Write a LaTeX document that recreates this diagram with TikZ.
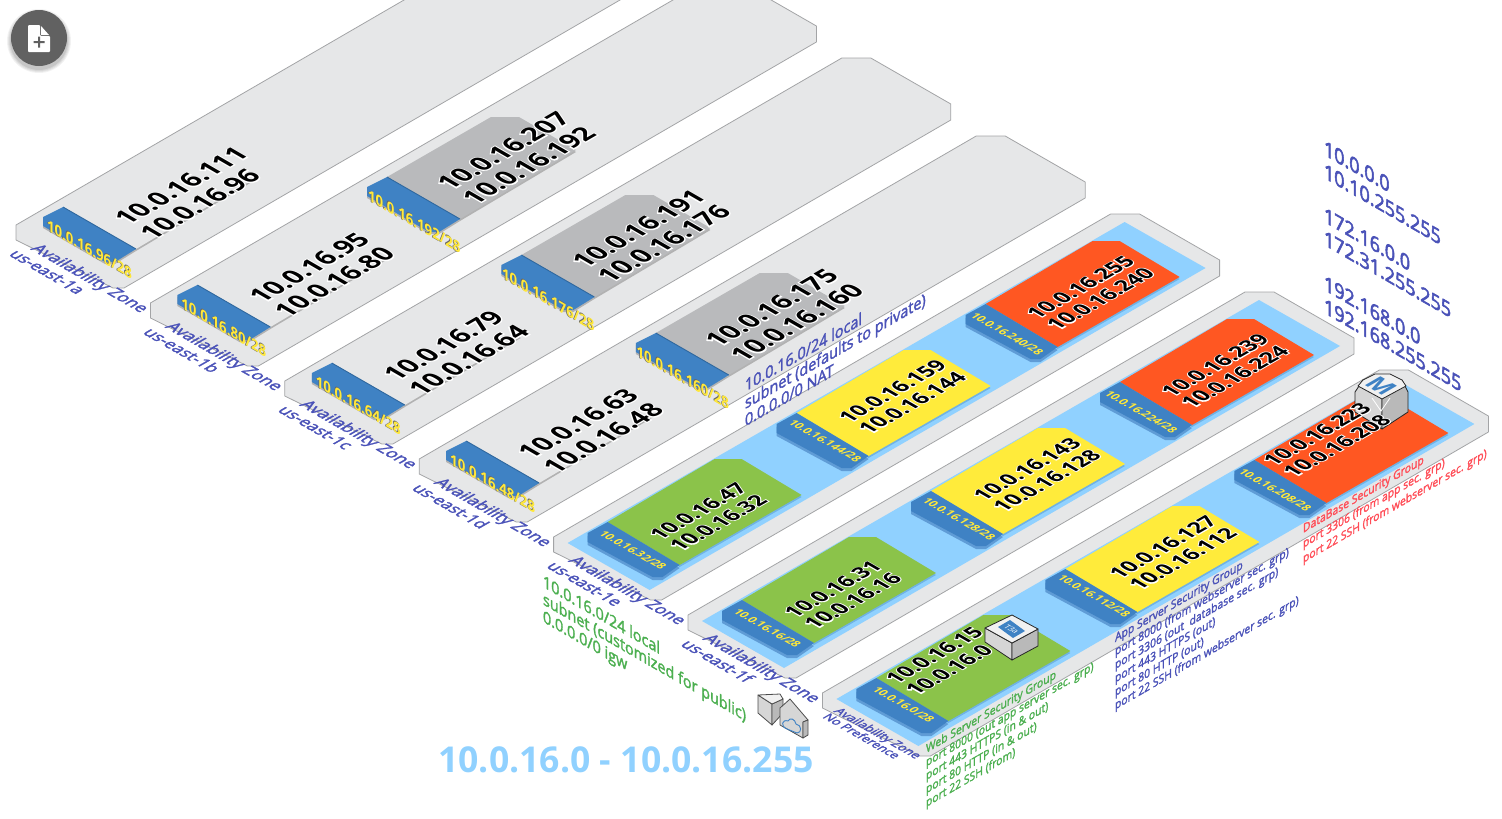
\documentclass[tikz,border=0pt]{standalone}
\usepackage{fontspec}
\setmainfont{Open Sans}
\newfontfamily\semifont[FakeBold=2]{Open Sans}
\newfontfamily\rangefont[FakeBold=3]{Open Sans}
\newfontfamily\halofont[FakeBold=9]{Open Sans}
\definecolor{bandgrey}{HTML}{E6E7E8}
\definecolor{bandline}{HTML}{A3A4A6}
\definecolor{sky}{HTML}{90D1FF}
\definecolor{hdrblue}{HTML}{3F82C4}
\definecolor{hdrdark}{HTML}{2F689F}
\definecolor{hdrshade}{HTML}{5F9CD6}
\definecolor{bodyshade}{HTML}{6FB2E4}
\definecolor{tgreen}{HTML}{8BC34A}
\definecolor{tyellow}{HTML}{FFEB3B}
\definecolor{torange}{HTML}{FF5722}
\definecolor{tgrey}{HTML}{B9BABC}
\definecolor{lblyellow}{HTML}{FFE83A}
\definecolor{indigoish}{HTML}{4A52B8}
\definecolor{greenish}{HTML}{4CAF50}
\definecolor{redish}{HTML}{FF4D57}
\definecolor{btn}{HTML}{616161}
\definecolor{cubeT}{HTML}{F1F1F1}
\definecolor{cubeL}{HTML}{D6D6D6}
\definecolor{cubeR}{HTML}{B9B9B9}
\tikzset{
  isoup/.style={inner sep=0pt,outer sep=0pt,anchor=west,align=left,cm={.866,.5,-.866,.5,(0,0)}},
  floordown/.style={inner sep=0pt,outer sep=0pt,anchor=west,align=left,cm={.866,-.5,.866,.5,(0,0)}},
  walldown/.style={inner sep=0pt,outer sep=0pt,anchor=west,align=left,cm={.866,-.5,0,1,(0,0)}},
  wallup/.style={inner sep=0pt,outer sep=0pt,anchor=west,align=left,cm={.866,.5,0,1,(0,0)}},
  ipbig/.style={isoup,font=\bfseries\fontsize{26}{29}\selectfont},
  ipsmall/.style={isoup,font=\bfseries\fontsize{21}{23}\selectfont},
  azlabel/.style={floordown,text=indigoish,font=\semifont\fontsize{16.8}{17}\selectfont},
  uslabel/.style={floordown,text=indigoish,font=\semifont\fontsize{16.5}{17}\selectfont},
  azsmall/.style={floordown,text=indigoish,font=\semifont\fontsize{12.5}{14}\selectfont},
  hdrwall/.style={walldown,text=lblyellow,font=\bfseries\fontsize{15.3}{17}\selectfont},
  hdrfloor/.style={floordown,text=lblyellow,font=\bfseries\fontsize{11.3}{14}\selectfont},
  sgtext/.style={wallup,font=\semifont\fontsize{12}{13.5}\selectfont},
  notetext/.style={font=\semifont\fontsize{16.6}{17.5}\selectfont},
  rangetext/.style={walldown,text=indigoish,font=\rangefont\fontsize{20.7}{23}\selectfont},
  cubeline/.style={draw=black!85,line width=.8pt,line join=round},
}
\newcommand{\haloline}[1]{\rlap{\halofont\color{white}#1}#1}
\newcommand{\shadeline}[1]{\rlap{\kern-.8pt\color{black!60}#1}#1}
\newcommand{\ipblock}[5]{\node[#1] (ip#4) at (#2,#3) {\haloline{10.0.16.#4}\\\haloline{10.0.16.#5}};}
\newcommand{\plaintile}[3]{%
  \begin{scope}[shift={(#1,#2)}]
    \fill[black!30,yshift=-2pt] (0,0)--(104,-60)--(132,-60)--(189,-27)--(73,42)--cycle;
    \fill[#3] (0,0)--(104,-60)--(132,-60)--(189,-27)--(73,42)--cycle;
    \fill[black!30,yshift=-2pt] (0,0)--(73,42)--(52,55)--(42,55)--(-20,19)--(-20,10)--cycle;
    \fill[hdrblue] (0,0)--(73,42)--(52,55)--(42,55)--(-20,19)--(-20,10)--cycle;
    \draw[hdrdark,line width=.9pt] (0,0)--(73,42);
  \end{scope}}
\newcommand{\colourtile}[3]{%
  \begin{scope}[shift={(#1,#2)}]
    \fill[bodyshade,yshift=-2pt] (0,0)--(107,-63)--(134,-63)--(194,-27)--(72,43)--cycle;
    \fill[#3] (0,0)--(107,-63)--(134,-63)--(194,-27)--(72,43)--cycle;
    \fill[hdrshade,yshift=-3pt] (0,0)--(72,43)--(55,55)--(45,55)--(-20,20)--(-20,11)--cycle;
    \fill[hdrblue] (0,0)--(72,43)--(55,55)--(45,55)--(-20,20)--(-20,11)--cycle;
  \end{scope}}
\begin{document}
\begin{tikzpicture}[x=1pt,y=-1pt]
\useasboundingbox (0,0) rectangle (1502,819);
\clip (0,0) rectangle (1502,819);
\foreach \k in {0,...,6}{
  \begin{scope}[shift={(16+134.4*\k,225+78*\k)}]
    \filldraw[fill=bandgrey,draw=bandline,line width=.8pt,line join=round]
      (0,0)--(557,-323)--(586,-323)--(666,-277)--(666,-261)--(108,63)--(97,63)--(0,15)--cycle;
  \end{scope}}
\foreach \k in {4,5,6}{
  \begin{scope}[shift={(16+134.4*\k,225+78*\k)}]
    \fill[sky] (14,6)--(571,-315)--(652,-269)--(96,53)--cycle;
  \end{scope}}
\plaintile{63}{207}{bandgrey}
\plaintile{197.4}{285}{bandgrey}
\plaintile{387}{177}{tgrey}
\plaintile{331.8}{363}{bandgrey}
\plaintile{521.4}{255}{tgrey}
\plaintile{466.2}{441}{bandgrey}
\plaintile{655.8}{333}{tgrey}
\colourtile{607.6}{522}{tgreen}
\colourtile{796.6}{413}{tyellow}
\colourtile{985.6}{304}{torange}
\colourtile{742}{600}{tgreen}
\colourtile{931}{491}{tyellow}
\colourtile{1120}{382}{torange}
\colourtile{876.4}{678}{tgreen}
\colourtile{1065.4}{569}{tyellow}
\colourtile{1254.4}{460}{torange}
% T3a cube
\filldraw[cubeline,fill=cubeL] (985,628)--(1012,643)--(1012,660)--(985,642)--cycle;
\filldraw[cubeline,fill=cubeR] (1012,643)--(1038,629)--(1038,646)--(1012,660)--cycle;
\filldraw[cubeline,fill=cubeT] (985,628)--(1012,615)--(1038,629)--(1012,643)--cycle;
\fill[hdrblue] (998,627)--(1010,620)--(1025,631)--(1013,638)--cycle;
\node[floordown,anchor=center,text=white,font=\fontsize{8}{9}\selectfont] (t3a) at (1011.5,629) {T3a};
% M cube
\filldraw[cubeline,fill=cubeL] (1355,392)--(1363,380)--(1382,395)--(1382,429)--(1355,412)--cycle;
\filldraw[cubeline,fill=cubeR] (1382,395)--(1402,380)--(1408,392)--(1408,412)--(1382,429)--cycle;
\filldraw[cubeline,fill=cubeT] (1358,386)--(1363,380)--(1375,374)--(1390,374)--(1402,380)--(1406,386)--(1382,399)--cycle;
\draw[white,line width=.8pt] (1372,398)--(1381,411)--(1390,398);
\node[floordown,anchor=center,text=hdrblue,font=\bfseries\fontsize{25}{26}\selectfont] (mcube) at (1381,386) {M};
% gateway icons
\filldraw[cubeline,fill=cubeL,draw=black!70] (758,695)--(772,704)--(772,725)--(758,713)--cycle;
\filldraw[cubeline,fill=cubeR,draw=black!70] (772,704)--(783,699)--(783,713)--(772,725)--cycle;
\filldraw[cubeline,fill=cubeT,draw=black!70] (758,695)--(780,694)--(783,699)--(772,704)--cycle;
\filldraw[cubeline,fill=cubeL,draw=black!70] (780,708)--(790,699)--(808,720)--(803,722)--(803,738)--(780,725)--cycle;
\filldraw[cubeline,fill=cubeR,draw=black!70] (803,722)--(808,720)--(808,735)--(803,738)--cycle;
\draw[hdrblue,line width=.9pt] (787,729) .. controls (780,726) and (782,719) .. (788,721) .. controls (790,717) and (795,719) .. (796,724) .. controls (802,725) and (802,733) .. (797,733) -- cycle;
% IP blocks
\ipblock{ipbig}{132.5}{228.5}{111}{96}
\ipblock{ipbig}{267}{306.5}{95}{80}
\ipblock{ipbig}{455}{193.5}{207}{192}
\ipblock{ipbig}{401.3}{384.5}{79}{64}
\ipblock{ipbig}{590}{271.5}{191}{176}
\ipblock{ipbig}{535.7}{462.5}{63}{48}
\ipblock{ipbig}{723}{350.5}{175}{160}
\ipblock{ipsmall}{664}{542.5}{47}{32}
\ipblock{ipsmall}{853}{425.5}{159}{144}
\ipblock{ipsmall}{1041}{321.5}{255}{240}
\ipblock{ipsmall}{798.5}{620.5}{31}{16}
\ipblock{ipsmall}{987.5}{503.5}{143}{128}
\ipblock{ipsmall}{1175.5}{399.5}{239}{224}
\ipblock{ipsmall}{900}{686.5}{15}{0}
\ipblock{ipsmall}{1123.5}{581.5}{127}{112}
\ipblock{ipsmall}{1277.5}{468.5}{223}{208}
% header labels
\foreach \x/\y/\t in {47/225/96,181.4/303/80,368/195/192,315.8/381/64,502/273/176,450.2/459/48,636.6/351/160}{
  \node[hdrwall] (hdr\t) at (\x,\y) {\shadeline{10.0.16.\t/28}};}
\foreach \x/\y/\t in {601.6/532/32,791/421/144,973/314/240,736/610/16,925/499/128,1107/392/224,875/688/0,1060/576/112,1241/470/208}{
  \node[hdrfloor] (hdr\t) at (\x,\y) {10.0.16.\t/28};}
% availability zones
\foreach \k/\z in {0/a,1/b,2/c,3/d,4/e,5/f}{
  \node[azlabel] (az\z) at (34+134.4*\k,247+78*\k) {Availability Zone};
  \node[uslabel] (us\z) at (13+134.4*\k,252+78*\k) {us-east-1\z};
}
\node[azsmall] (azn) at (836,710) {Availability Zone};
\node[azsmall] (usn) at (826,715) {No Preference};
% notes
\node[wallup,notetext,text=indigoish] (privnote) at (745,403) {10.0.16.0/24 local\\subnet (defaults to private)\\0.0.0.0/0 NAT};
\node[walldown,notetext,text=greenish] (pubnote) at (543,600) {10.0.16.0/24 local\\subnet (customized for public)\\0.0.0.0/0 igw};
% security groups
\node[sgtext,text=greenish] (websg) at (926,777) {Web Server Security Group\\port 8000 (out app server sec. grp)\\port 443 HTTPS (in \& out)\\port 80 HTTP (in \& out)\\port 22 SSH (from)};
\node[sgtext,text=indigoish] (appsg) at (1115,673) {App Server Security Group\\port 8000 (from webserver sec. grp)\\port 3306 (out\ \ database sec. grp)\\port 443 HTTPS (out)\\port 80 HTTP (out)\\port 22 SSH (from webserver sec. grp)};
\node[sgtext,text=redish,font=\semifont\fontsize{12}{15}\selectfont] (dbsg) at (1303,545) {DataBase Security Group\\port 3306 (from app sec. grp)\\port 22 SSH (from webserver sec. grp)};
% ranges
\node[rangetext] (r10) at (1324,159) {10.0.0.0\\10.10.255.255};
\node[rangetext] (r172) at (1324,226) {172.16.0.0\\172.31.255.255};
\node[rangetext] (r192) at (1324,294) {192.168.0.0\\192.168.255.255};
% title
\node[inner sep=0pt,text=sky,font=\bfseries\fontsize{35.6}{40}\selectfont] (title) at (626,760) {10.0.16.0 - 10.0.16.255};
% button
\foreach \o/\r in {.05/32,.06/31,.06/30,.08/29}{\fill[black,opacity=\o] (39,41) circle (\r);}
\node[circle,fill=btn,minimum size=56pt,inner sep=0pt] (btncircle) at (39,38) {};
\fill[white,rounded corners=1pt] (28,25)--(40,25)--(40,36)--(50,36)--(50,52)--(28,52)--cycle;
\fill[white] (41,26)--(49,35)--(41,35)--cycle;
\fill[btn] (33.5,41)--(38,41)--(38,36.5)--(40,36.5)--(40,41)--(44.5,41)--(44.5,43)--(40,43)--(40,47.5)--(38,47.5)--(38,43)--(33.5,43)--cycle;
\end{tikzpicture}
\end{document}
